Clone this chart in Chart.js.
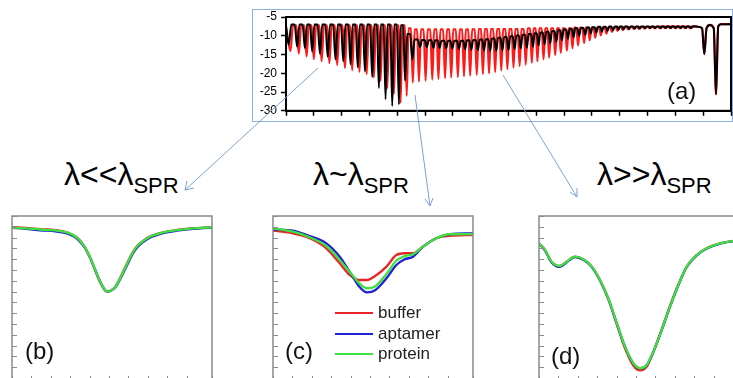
<!DOCTYPE html>
<html>
<head>
<meta charset="utf-8">
<script src="https://cdn.jsdelivr.net/npm/chart.js@4.4.1/dist/chart.umd.min.js"></script>
<style>
  body { margin: 0; width: 733px; height: 378px; overflow: hidden; position: relative; background: #fff;
         font-family: "Liberation Sans", Arial, sans-serif; }
  canvas { position: absolute; }
  .tag { position: absolute; font-size: 24px; line-height: 24px; color: #111; }
  .title { position: absolute; font-size: 32px; line-height: 32px; color: #000; white-space: nowrap; }
  .title span { font-size: 22px; position: relative; top: 8px; }
  .leg { position: absolute; left: 335px; height: 20px; display: flex; align-items: center; font-size: 17px; color: #222; }
  .leg i { display: inline-block; width: 38px; height: 2px; margin-right: 5px; }
  #boxA { position: absolute; left: 252px; top: 9px; width: 479px; height: 111px; border: 1px solid #8eb1dd; }
  svg { position: absolute; left: 0; top: 0; }
</style>
</head>
<body>
<div id="boxA"></div>
<canvas id="chartA" width="483" height="122" style="left:250px;top:0"></canvas>
<canvas id="chartB" width="230" height="190" style="left:0;top:200px"></canvas>
<canvas id="chartC" width="230" height="190" style="left:260px;top:200px"></canvas>
<canvas id="chartD" width="225" height="190" style="left:520px;top:200px"></canvas>

<div class="tag" style="left:667px;top:79px">(a)</div>
<div class="tag" style="left:25px;top:339px">(b)</div>
<div class="tag" style="left:285px;top:339px">(c)</div>
<div class="tag" style="left:551px;top:344px">(d)</div>

<div class="title" style="left:64px;top:158px">λ&lt;&lt;λ<span>SPR</span></div>
<div class="title" style="left:313px;top:158px">λ~λ<span>SPR</span></div>
<div class="title" style="left:597px;top:158px">λ&gt;&gt;λ<span>SPR</span></div>

<div class="leg" style="top:303px"><i style="background:#e8262a"></i>buffer</div>
<div class="leg" style="top:324px"><i style="background:#1f1fd8"></i>aptamer</div>
<div class="leg" style="top:344px"><i style="background:#3ee03e"></i>protein</div>

<svg width="733" height="378">
  <g stroke="#7ea1d4" stroke-width="1" fill="none">
    <line x1="318" y1="68" x2="185" y2="190"/>
    <polyline points="187,181 185,190 194,188"/>
    <line x1="415" y1="95" x2="430" y2="206"/>
    <polyline points="425,199 430,206 433,198"/>
    <line x1="503" y1="75" x2="577" y2="197"/>
    <polyline points="570,192 577,197 577,188"/>
  </g>
</svg>

<script>
// panel (a): resonance comb, wavelength in nm, transmission in dB
const startY = -7.5;
const blackDipX = [1500.5, 1502.0, 1503.4, 1504.7, 1506.1, 1507.5, 1508.9, 1510.3, 1511.6, 1512.9,
  1514.2, 1515.5, 1516.7, 1517.9, 1519.1, 1520.3, 1521.4, 1522.7,
  1524.1, 1525.3, 1526.5, 1527.6, 1528.8, 1529.9, 1531.1, 1532.2, 1533.3, 1534.5,
  1535.6, 1536.7, 1537.8, 1538.9, 1540.0, 1541.1, 1542.2, 1543.3, 1544.4, 1545.4,
  1546.5, 1547.5, 1548.6, 1549.6, 1550.7, 1551.7, 1552.7, 1553.8, 1554.8, 1555.8,
  1556.8, 1557.8, 1558.8, 1559.8, 1560.7, 1561.7, 1562.7, 1563.6, 1564.6, 1565.5,
  1566.4, 1567.4, 1568.3, 1569.2, 1570.1, 1571.0, 1571.9, 1572.8];
const blackDipY = [-12.4, -12.9, -13.3, -14.2, -14.8, -15.6, -16.3, -16.8, -17.6, -18.4,
  -19.5, -21.0, -23.9, -26.9, -28.7, -28.3, -22.0, -16.3,
  -13.0, -13.1, -13.2, -13.2, -13.3, -13.4, -13.5, -13.6, -13.7, -13.8,
  -13.9, -14.0, -14.0, -13.9, -13.8, -13.6, -13.4, -13.2, -12.9, -12.6,
  -12.3, -12.0, -11.6, -11.2, -10.8, -10.4, -10.0, -9.7, -9.4, -9.1,
  -8.9, -8.7, -8.5, -8.4, -8.3, -8.2, -8.1, -8.1, -8.0, -8.0,
  -8.0, -8.0, -8.0, -8.0, -8.0, -8.0, -8.0, -8.0];
const blackTopY = [-7.0, -7.0, -7.0, -7.0, -7.0, -7.0, -7.0, -7.0, -7.0, -7.0,
  -7.0, -7.0, -7.0, -7.0, -7.0, -7.2, -9.5, -11.0,
  -11.1, -11.2, -11.2, -11.3, -11.3, -11.3, -11.3, -11.2, -11.1, -11.0,
  -10.9, -10.7, -10.5, -10.3, -10.1, -9.9, -9.7, -9.5, -9.3, -9.1,
  -8.9, -8.7, -8.5, -8.3, -8.1, -8.0, -7.9, -7.8, -7.7, -7.6,
  -7.6, -7.5, -7.5, -7.5, -7.5, -7.5, -7.5, -7.5, -7.5, -7.5,
  -7.5, -7.5, -7.5, -7.5, -7.5, -7.5, -7.5, -7.5];

const redDipX = [1500.8, 1502.3, 1503.7, 1505.0, 1506.4, 1507.8, 1509.2, 1510.6, 1511.9, 1513.2,
  1514.5, 1515.8, 1517.0, 1518.2, 1519.4, 1520.6, 1521.7,
  1522.8, 1523.9, 1525.1, 1526.3, 1527.4, 1528.6, 1529.7, 1530.9, 1532.0, 1533.1,
  1534.3, 1535.4, 1536.5, 1537.6, 1538.7, 1539.8, 1540.9, 1542.0, 1543.1, 1544.2,
  1545.2, 1546.3, 1547.3, 1548.4, 1549.4, 1550.5, 1551.5, 1552.5, 1553.6, 1554.6,
  1555.6, 1556.6, 1557.6, 1558.6, 1559.6, 1560.5, 1561.5, 1562.5, 1563.4, 1564.4,
  1565.3, 1566.2, 1567.2, 1568.1, 1569.0, 1569.9, 1570.8, 1571.7, 1572.6];
const redDipY = [-14.1, -14.8, -15.5, -16.2, -16.8, -17.3, -17.8, -18.6, -19.2, -19.6,
  -20.2, -21.1, -22.0, -24.0, -25.5, -27.8, -26.0,
  -22.5, -22.2, -22.0, -21.7, -21.5, -21.3, -21.1, -21.0, -20.8, -20.6,
  -20.4, -20.2, -20.0, -19.7, -19.3, -18.9, -18.5, -18.1, -17.7, -17.2,
  -16.8, -16.3, -15.8, -15.2, -14.6, -14.0, -13.3, -12.6, -11.9, -11.2,
  -10.5, -9.9, -9.4, -9.0, -8.7, -8.5, -8.3, -8.2, -8.1, -8.1,
  -8.0, -8.0, -8.0, -8.0, -8.0, -8.0, -8.0, -8.0, -8.0];
const redTopY = [-7.2, -7.2, -7.2, -7.2, -7.2, -7.2, -7.2, -7.2, -7.2, -7.2,
  -7.2, -7.2, -7.2, -7.2, -7.2, -7.2, -8.0,
  -8.3, -8.3, -8.3, -8.3, -8.3, -8.3, -8.3, -8.3, -8.3, -8.3,
  -8.2, -8.2, -8.2, -8.2, -8.2, -8.2, -8.2, -8.2, -8.0, -8.0,
  -8.0, -8.0, -8.0, -8.0, -8.0, -8.0, -7.8, -7.8, -7.8, -7.8,
  -7.8, -7.8, -7.8, -7.8, -7.6, -7.6, -7.6, -7.6, -7.6, -7.6,
  -7.6, -7.6, -7.5, -7.5, -7.5, -7.5, -7.5, -7.5, -7.5];

// two isolated core-mode dips at the long-wavelength end
const tailX = [1574.0, 1574.8, 1575.2, 1575.6, 1576.2, 1576.9, 1577.3, 1577.7, 1578.2, 1580.0];
const tailY = [-7.6, -8.0, -14.9, -8.0, -7.1, -8.0, -25.6, -7.5, -6.9, -6.9];

// panels (b)-(d): zoom on one resonance, arbitrary units
const bX = [0, 0.69, 1.46, 2.23, 2.9, 3.26, 3.52, 3.78, 4.04, 4.29, 4.55, 4.76, 4.91, 5.07, 5.33,
  5.53, 5.74, 6.0, 6.25, 6.51, 6.77, 7.13, 7.49, 7.9, 8.31, 8.83, 9.36, 9.86, 10.33];
const bBuffer = [-1.05, -1.1, -1.22, -1.3, -1.55, -1.88, -2.3, -2.97, -3.92, -5.05, -6.15, -6.8, -7.02, -6.93, -6.55,
  -5.9, -5.12, -4.13, -3.28, -2.66, -2.28, -1.88, -1.65, -1.47, -1.35, -1.22, -1.13, -1.08, -1.04];
const bAptamer = [-1.1, -1.18, -1.32, -1.42, -1.65, -1.98, -2.4, -3.0, -3.9, -5.0, -6.1, -6.78, -7.0, -6.95, -6.6,
  -6.0, -5.25, -4.3, -3.42, -2.8, -2.4, -1.98, -1.75, -1.55, -1.42, -1.28, -1.18, -1.12, -1.07];
const bProtein = [-1.08, -1.14, -1.25, -1.34, -1.57, -1.9, -2.31, -2.96, -3.89, -5.0, -6.11, -6.76, -7.01, -6.94, -6.57,
  -5.93, -5.16, -4.17, -3.31, -2.69, -2.31, -1.9, -1.67, -1.48, -1.36, -1.23, -1.14, -1.09, -1.05];

const cX = [0, 1.03, 1.89, 2.75, 3.44, 3.95, 4.43, 4.85, 5.28, 5.85, 6.36, 6.79, 7.22, 7.73, 8.42, 9.11, 10.31];
const cBuffer = [-1.36, -1.6, -2.06, -2.99, -4.38, -5.46, -5.93, -5.93, -5.54, -4.69, -3.61, -3.45, -3.45, -2.84, -2.06, -1.85, -1.76];
const cAptamer = [-1.23, -1.36, -1.85, -2.53, -3.77, -5.16, -6.5, -7.08, -6.85, -5.77, -4.54, -4.01, -3.77, -2.84, -2.06, -1.69, -1.6];
const cProtein = [-1.14, -1.45, -1.97, -2.78, -4.07, -5.16, -6.2, -6.69, -6.5, -5.37, -4.14, -3.72, -3.55, -2.84, -2.06, -1.69, -1.67];

const dX = [0, 0.31, 0.65, 1.08, 1.43, 1.86, 2.28, 2.72, 3.14, 3.57, 4.01, 4.43, 4.86, 5.21, 5.55, 5.89,
  6.32, 6.75, 7.18, 7.61, 8.13, 8.64, 9.33, 10.02, 10.2];
const dBuffer = [-2.53, -3.15, -4.23, -4.63, -4.23, -3.77, -4.01, -4.69, -5.95, -7.7, -10.05, -12.25, -13.85, -14.3, -13.95,
  -12.6, -10.5, -8.3, -6.35, -4.69, -3.61, -2.99, -2.53, -2.31, -2.28];
const dAptamer = [-2.55, -3.2, -4.3, -4.72, -4.28, -3.8, -4.05, -4.72, -5.95, -7.65, -9.95, -12.1, -13.65, -14.12, -13.82,
  -12.58, -10.58, -8.42, -6.42, -4.72, -3.65, -3.02, -2.56, -2.33, -2.3];
const dProtein = [-2.53, -3.15, -4.23, -4.63, -4.23, -3.77, -4.01, -4.69, -5.93, -7.62, -9.94, -12.1, -13.64, -14.1, -13.8,
  -12.56, -10.56, -8.4, -6.39, -4.69, -3.61, -2.99, -2.53, -2.31, -2.28];

const RED = '#e8262a', BLUE = '#1f1fd8', GREEN = '#3ee03e';

// dip, then a flat crest spanning the middle of the gap to the next dip
function comb(dx, dy, top) {
  const pts = [{ x: 1500, y: startY }];
  for (let i = 0; i < dx.length; i++) {
    pts.push({ x: dx[i], y: dy[i] });
    const nx = i + 1 < dx.length ? dx[i + 1] : tailX[0];
    const gap = nx - dx[i];
    pts.push({ x: dx[i] + gap * 0.3, y: top[i] });
    pts.push({ x: dx[i] + gap * 0.7, y: top[i] });
  }
  tailX.forEach((x, i) => pts.push({ x: x, y: tailY[i] }));
  return pts;
}

function pairs(xs, ys) {
  return xs.map((x, i) => ({ x: x, y: ys[i] }));
}

// box around the plot area, plus inward tick marks for the small panels
const framePlugin = {
  id: 'frame',
  afterDraw(chart, args, opts) {
    const ctx = chart.ctx, a = chart.chartArea;
    ctx.save();
    if (opts.inward) {
      ctx.strokeStyle = opts.color;
      ctx.lineWidth = 1;
      const sy = chart.scales.y, sx = chart.scales.x;
      sy.ticks.forEach(t => {
        const py = Math.round(sy.getPixelForValue(t.value)) + 0.5;
        ctx.beginPath(); ctx.moveTo(a.left, py); ctx.lineTo(a.left + 5, py); ctx.stroke();
      });
      sx.ticks.forEach(t => {
        const px = Math.round(sx.getPixelForValue(t.value)) + 0.5;
        ctx.beginPath(); ctx.moveTo(px, a.bottom); ctx.lineTo(px, a.bottom - 4); ctx.stroke();
      });
    }
    ctx.strokeStyle = opts.color;
    ctx.lineWidth = opts.width;
    ctx.strokeRect(a.left, a.top, a.right - a.left, a.bottom - a.top);
    ctx.restore();
  }
};

new Chart(document.getElementById('chartA'), {
  type: 'line',
  data: {
    datasets: [
      { data: comb(blackDipX, blackDipY, blackTopY), borderColor: '#000', borderWidth: 2, order: 1 },
      { data: comb(redDipX, redDipY, redTopY), borderColor: '#ff1a1a', borderWidth: 2.2, order: 2 }
    ]
  },
  options: {
    responsive: false, animation: false, devicePixelRatio: 1,
    elements: { point: { radius: 0 }, line: { cubicInterpolationMode: 'monotone' } },
    layout: { padding: { top: 17, right: 2, left: 0, bottom: 0 } },
    plugins: { legend: { display: false }, tooltip: { enabled: false }, frame: { color: '#000', width: 2 } },
    scales: {
      x: {
        type: 'linear', min: 1500, max: 1580,
        ticks: { stepSize: 5, display: false },
        grid: { drawOnChartArea: false, tickLength: 5, color: '#000', tickColor: '#000', tickWidth: 1.5 },
        border: { color: '#000', width: 2 },
        afterFit: s => { s.height = 9; }
      },
      y: {
        min: -30, max: -5,
        ticks: {
          stepSize: 2.5, padding: 4, color: '#000',
          font: { family: 'Liberation Sans', size: 12 },
          callback: v => (v % 5 === 0 ? v : '')
        },
        grid: { drawOnChartArea: false, tickLength: 5, color: '#000', tickColor: '#000', tickWidth: 1.5 },
        border: { color: '#000', width: 2 },
        afterFit: s => { s.width = 36; }
      }
    }
  },
  plugins: [framePlugin]
});

function small(id, xs, buffer, aptamer, protein, xmax, pad) {
  new Chart(document.getElementById(id), {
    type: 'line',
    data: {
      datasets: [
        { data: pairs(xs, protein), borderColor: GREEN, borderWidth: 2.3, order: 1 },
        { data: pairs(xs, aptamer), borderColor: BLUE, borderWidth: 2.3, order: 2 },
        { data: pairs(xs, buffer), borderColor: RED, borderWidth: 2.3, order: 3 }
      ]
    },
    options: {
      responsive: false, animation: false, devicePixelRatio: 1,
      elements: { point: { radius: 0 }, line: { cubicInterpolationMode: 'monotone' } },
      layout: { padding: pad },
      plugins: { legend: { display: false }, tooltip: { enabled: false },
                 frame: { color: '#8a8a8a', width: 1.5, inward: true } },
      scales: {
        x: { type: 'linear', min: 0, max: xmax, ticks: { stepSize: 1, display: false },
             grid: { display: false }, border: { display: false }, afterFit: s => { s.height = 0; } },
        y: { min: -15.19, max: 0, ticks: { stepSize: 1, display: false },
             grid: { display: false }, border: { display: false }, afterFit: s => { s.width = 0; } }
      }
    },
    plugins: [framePlugin]
  });
}

small('chartB', bX, bBuffer, bAptamer, bProtein, 10.31, { left: 12, top: 16, right: 18, bottom: 10 });
small('chartC', cX, cBuffer, cAptamer, cProtein, 10.31, { left: 13, top: 16, right: 17, bottom: 10 });
small('chartD', dX, dBuffer, dAptamer, dProtein, 10.2, { left: 19, top: 16, right: 8, bottom: 10 });
</script>
</body>
</html>
